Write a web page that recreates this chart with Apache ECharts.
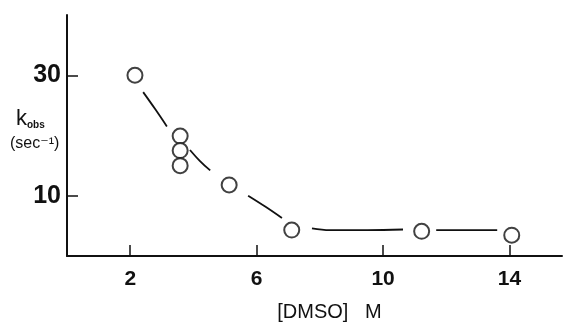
<!DOCTYPE html>
<html><head><meta charset="utf-8">
<script src="https://cdn.jsdelivr.net/npm/echarts@6/dist/echarts.min.js"></script>
<style>html,body{margin:0;padding:0;background:#fff}#c{width:564px;height:327px}</style>
</head><body><div id="c"></div>
<script>
// Data
const dmso = [2.15, 3.58, 3.58, 3.58, 5.13, 7.11, 11.22, 14.07];
const kobs = [30.0, 19.9, 17.5, 15.0, 11.8, 4.3, 4.1, 3.45];
// Hand-drawn fitted curve, drawn in broken segments between circles
const seg1X = [2.41, 2.8, 3.16];           const seg1Y = [27.2, 24.3, 21.5];
const seg2X = [3.89, 4.2, 4.53];           const seg2Y = [17.6, 15.8, 14.2];
const seg3X = [5.73, 6.27, 6.80];          const seg3Y = [10.0, 8.2, 6.3];
const seg4X = [7.75, 8.32, 9.5, 10.63];    const seg4Y = [4.6, 4.3, 4.3, 4.4];
const seg5X = [11.68, 12.6, 13.61];        const seg5Y = [4.3, 4.3, 4.3];
const xTicks = [2, 6, 10, 14];
const yTicks = [10, 30];

const ink = '#111';
const segs = [[seg1X,seg1Y],[seg2X,seg2Y],[seg3X,seg3Y],[seg4X,seg4Y],[seg5X,seg5Y]];
const lineSeries = segs.map(([xs,ys]) => ({
  type:'line', data: xs.map((x,i)=>[x,ys[i]]), showSymbol:false, smooth:0.4,
  lineStyle:{color:ink,width:1.8}, silent:true, z:2
}));
const font = 'Liberation Sans, DejaVu Sans, sans-serif';
const chart = echarts.init(document.getElementById('c'), null, {renderer:'canvas'});
chart.setOption({
  animation:false,
  grid:{left:67, right:2, top:15, bottom:66, containLabel:false},
  xAxis:{type:'value', min:0, max:15.66,
    axisLine:{show:true, onZero:false, lineStyle:{color:ink,width:2}},
    axisTick:{show:true, inside:true, length:11, customValues:xTicks, lineStyle:{color:ink,width:1.5}},
    axisLabel:{customValues:xTicks, color:ink, fontSize:21, fontWeight:'bold', fontFamily:font, margin:13},
    splitLine:{show:false},
    name:'[DMSO]   M', nameLocation:'middle', nameGap:46,
    nameTextStyle:{color:ink, fontSize:20, fontFamily:font, padding:[0,0,0,30]}
  },
  yAxis:{type:'value', min:0, max:40,
    axisLine:{show:true, onZero:false, lineStyle:{color:ink,width:2}},
    axisTick:{show:true, inside:true, length:11, customValues:yTicks, lineStyle:{color:ink,width:1.5}},
    axisLabel:{customValues:yTicks, color:ink, fontSize:25, fontWeight:'bold', fontFamily:font, margin:6},
    splitLine:{show:false}
  },
  graphic:[
    {type:'text', left:16, top:108, style:{
      text:'{k|k}{s|obs}', rich:{k:{fontSize:22,fontFamily:font,fill:ink,verticalAlign:'bottom'},
      s:{fontSize:10,fontFamily:font,fill:ink,fontWeight:'bold',padding:[12,0,0,0]}}}},
    {type:'text', left:10, top:136, style:{text:'(sec\u207B\u00B9)', fontSize:16, fontFamily:font, fill:ink}}
  ],
  series:[
    ...lineSeries,
    {type:'scatter', data: dmso.map((x,i)=>[x,kobs[i]]), symbol:'circle', symbolSize:15,
     itemStyle:{color:'#fff', borderColor:ink, borderWidth:2}, z:5}
  ]
});
</script></body></html>
